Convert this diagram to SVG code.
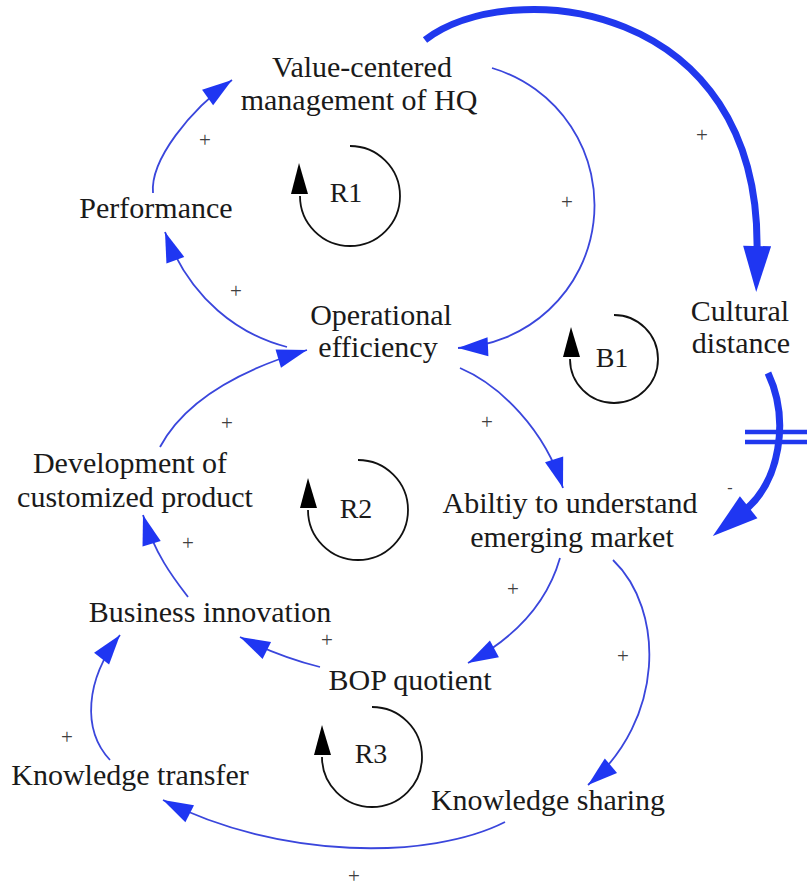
<svg xmlns="http://www.w3.org/2000/svg" width="807" height="890" viewBox="0 0 807 890">
  <style>
    .lbl { font-family: "Liberation Serif", "Times New Roman", serif; font-size: 30px; fill: #1a1a1a; text-anchor: middle; }
    .loop { font-family: "Liberation Serif", "Times New Roman", serif; font-size: 28px; fill: #1a1a1a; text-anchor: middle; }
    .pol { font-family: "Liberation Serif", "Times New Roman", serif; font-size: 21px; fill: #404040; text-anchor: middle; dominant-baseline: central; }
    .thin { fill: none; stroke: #3a46dc; stroke-width: 1.8; marker-end: url(#ah); }
    .thick { fill: none; stroke: #2038ee; stroke-width: 7; marker-end: url(#ahb); }
    .delay { stroke: #2038ee; stroke-width: 4.5; }
    .lp { fill: none; stroke: #111; stroke-width: 1.8; }
    .lpa { fill: #000; }
  </style>
  <defs>
    <marker id="ah" markerUnits="userSpaceOnUse" markerWidth="32" markerHeight="20" refX="30" refY="9.5" orient="auto" overflow="visible">
      <path d="M0,0 L30,9.5 L0,19 z" fill="#1f36f2"/>
    </marker>
    <marker id="ahb" markerUnits="userSpaceOnUse" markerWidth="48" markerHeight="30" refX="6" refY="14" orient="auto" overflow="visible">
      <path d="M0,0 L46,14 L0,28 z" fill="#1f36f2"/>
    </marker>
  </defs>

  <rect width="807" height="890" fill="#ffffff"/>

  <g id="connectors">
    <path class="thin" d="M153,193 C150,160 190,110 232,80"/>
    <path class="thin" d="M287,347 C240,335 190,300 165,232"/>
    <path class="thin" d="M492,68 A143,143 0 0 1 458,348"/>
    <path class="thick" d="M425,40 C510,-25 762,0 757,252"/>
    <path class="thick" d="M768,373 C790,420 780,482 744,511"/>
    <line class="delay" x1="745" y1="432" x2="807" y2="432"/>
    <line class="delay" x1="745" y1="442" x2="807" y2="442"/>
    <path class="thin" d="M460,368 C500,385 545,430 563,488"/>
    <path class="thin" d="M160,447 C185,400 240,370 307,350"/>
    <path class="thin" d="M188,597 C175,580 155,555 143,515"/>
    <path class="thin" d="M320,667 C300,662 270,652 240,637"/>
    <path class="thin" d="M560,558 C548,600 520,635 468,663"/>
    <path class="thin" d="M613,560 C665,610 665,720 588,785"/>
    <path class="thin" d="M505,822 C430,860 280,860 163,800"/>
    <path class="thin" d="M110,760 C82,730 85,680 120,635"/>
  </g>

  <g id="polarities">
    <text class="pol" x="205" y="140">+</text>
    <text class="pol" x="236" y="291">+</text>
    <text class="pol" x="567" y="202">+</text>
    <text class="pol" x="702" y="135">+</text>
    <text class="pol" x="487" y="422">+</text>
    <text class="pol" x="227" y="423">+</text>
    <text class="pol" x="188" y="543">+</text>
    <text class="pol" x="327" y="640">+</text>
    <text class="pol" x="513" y="589">+</text>
    <text class="pol" x="623" y="656">+</text>
    <text class="pol" x="67" y="737">+</text>
    <text class="pol" x="354" y="876">+</text>
    <text class="pol" x="730" y="487" style="font-size:16px">-</text>
  </g>

  <g id="loop-R1">
    <path class="lp" d="M350,146 A50,50 0 1 1 300,196"/>
    <polygon class="lpa" points="299,163 291,194 308,194"/>
    <text class="loop" x="346" y="202">R1</text>
  </g>
  <g id="loop-B1">
    <path class="lp" d="M614,315 A44,44 0 1 1 570,359"/>
    <polygon class="lpa" points="571,327 563,357 580,357"/>
    <text class="loop" x="612" y="367">B1</text>
  </g>
  <g id="loop-R2">
    <path class="lp" d="M358,460 A50,50 0 1 1 308,510"/>
    <polygon class="lpa" points="308,478 300,508 317,508"/>
    <text class="loop" x="356" y="518">R2</text>
  </g>
  <g id="loop-R3">
    <path class="lp" d="M372,707 A50,50 0 1 1 322,757"/>
    <polygon class="lpa" points="322,725 314,755 331,755"/>
    <text class="loop" x="371" y="763">R3</text>
  </g>

  <g id="n-value">
    <text class="lbl" x="362" y="77">Value-centered</text>
    <text class="lbl" x="359" y="110">management of HQ</text>
  </g>
  <g id="n-performance">
    <text class="lbl" x="156" y="218">Performance</text>
  </g>
  <g id="n-operational">
    <text class="lbl" x="381" y="325">Operational</text>
    <text class="lbl" x="378" y="357">efficiency</text>
  </g>
  <g id="n-cultural">
    <text class="lbl" x="740" y="321">Cultural</text>
    <text class="lbl" x="741" y="353">distance</text>
  </g>
  <g id="n-development">
    <text class="lbl" x="130" y="473">Development of</text>
    <text class="lbl" x="135" y="507">customized product</text>
  </g>
  <g id="n-ability">
    <text class="lbl" x="570" y="513">Abiltiy to understand</text>
    <text class="lbl" x="572" y="547">emerging market</text>
  </g>
  <g id="n-business">
    <text class="lbl" x="210" y="622">Business innovation</text>
  </g>
  <g id="n-bop">
    <text class="lbl" x="410" y="690">BOP quotient</text>
  </g>
  <g id="n-ktransfer">
    <text class="lbl" x="130" y="785">Knowledge transfer</text>
  </g>
  <g id="n-ksharing">
    <text class="lbl" x="548" y="810">Knowledge sharing</text>
  </g>
</svg>
